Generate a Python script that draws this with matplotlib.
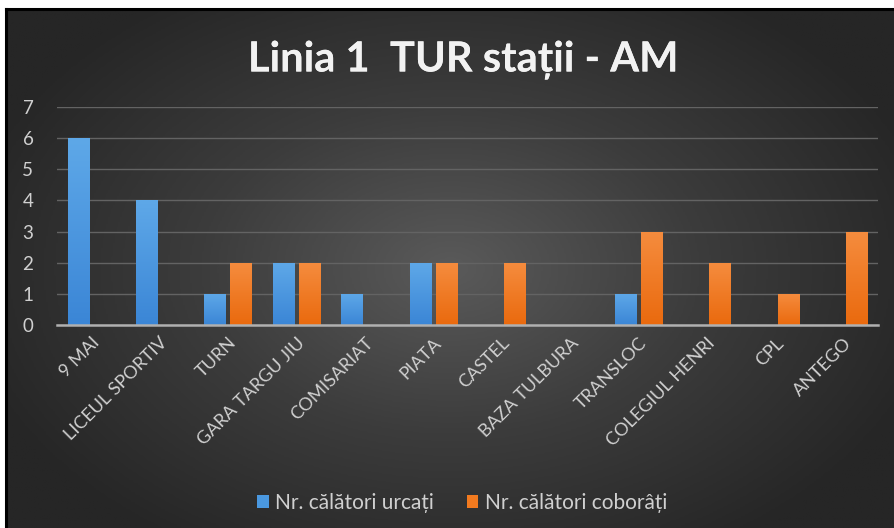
import numpy as np
import matplotlib.pyplot as plt
from matplotlib import patheffects as pe
from matplotlib.colors import LinearSegmentedColormap

plt.rcParams['font.family'] = ['Lato', 'DejaVu Sans']

statii = ['9 MAI', 'LICEUL SPORTIV', 'TURN', 'GARA TARGU JIU', 'COMISARIAT', 'PIATA',
          'CASTEL', 'BAZA TULBURA', 'TRANSLOC', 'COLEGIUL HENRI', 'CPL', 'ANTEGO']
urcati = [6, 4, 1, 2, 1, 2, 0, 0, 1, 0, 0, 0]
coborati = [0, 0, 2, 2, 0, 2, 2, 0, 3, 2, 1, 3]
yticks = [0, 1, 2, 3, 4, 5, 6, 7]

W, H = 894, 528
fig = plt.figure(figsize=(W / 100, H / 100), dpi=100)
fig.patch.set_facecolor('white')

# fond sombre avec degrade radial
bx0, by1 = 7 / W, 1 - 10 / H
bg = fig.add_axes([bx0, 0, 1 - bx0, by1])
bg.set_zorder(-5)
yy, xx = np.mgrid[0:1:300j, 0:1:500j]
r = np.sqrt(((xx - 0.5) / 0.75) ** 2 + ((yy - 0.5) / 0.85) ** 2)
r = np.clip(r / 0.75, 0, 1)
cm_bg = LinearSegmentedColormap.from_list('bg', ['#5a5a5a', '#3c3c3c', '#262626'])
bg.imshow(r, cmap=cm_bg, aspect='auto', extent=[0, 1, 0, 1], vmin=0, vmax=1)
bg.set_xlim(0, 1)
bg.set_ylim(0, 1)
bg.axis('off')
# bordure noire
fig.add_artist(plt.Line2D([bx0 - 0.001, bx0 - 0.001], [0, by1 + 0.002], color='black', lw=2.2,
                          transform=fig.transFigure))
fig.add_artist(plt.Line2D([bx0 - 0.001, 1], [by1 + 0.002, by1 + 0.002], color='black', lw=2.2,
                          transform=fig.transFigure))

ax = fig.add_axes([57 / W, 1 - 325 / H, (878 - 57) / W, (325 - 107) / H])
ax.patch.set_alpha(0)

x = np.arange(len(statii))
w = 0.31
off = 0.19
b1 = ax.bar(x - off, urcati, w, color='#4a98e0', zorder=3, label='Nr. călători urcați')
b2 = ax.bar(x + off, coborati, w, color='#f27a1f', zorder=3, label='Nr. călători coborâți')

# degrade vertical dans chaque barre
grad = np.linspace(1, 0, 64).reshape(-1, 1)
cm_b = LinearSegmentedColormap.from_list('b', ['#3b86d6', '#5ea8e8'])
cm_o = LinearSegmentedColormap.from_list('o', ['#ea6a0e', '#f58c3e'])
for bars, cm in ((b1, cm_b), (b2, cm_o)):
    for p in bars:
        h = p.get_height()
        if h <= 0:
            continue
        x0 = p.get_x()
        im = ax.imshow(grad, cmap=cm, aspect='auto', zorder=4, vmin=0, vmax=1,
                       extent=[x0, x0 + p.get_width(), 0, h])
        im.set_clip_path(p)

ax.set_xlim(-0.5, len(statii) - 0.5)
ax.set_ylim(0, 7)
ax.set_yticks(yticks)
ax.yaxis.grid(True, color='#636363', lw=1)
ax.set_axisbelow(True)
for s in ['top', 'right', 'left']:
    ax.spines[s].set_visible(False)
ax.spines['bottom'].set_color('#b0b0b0')
ax.spines['bottom'].set_linewidth(1.8)
ax.spines['bottom'].set_zorder(5)
ax.tick_params(axis='both', length=0, colors='#d0d0d0')
ax.tick_params(axis='y', labelsize=13.5, pad=17)
ax.set_xticks(x)
ax.set_xticklabels(statii, rotation=45, ha='right', rotation_mode='anchor',
                   fontsize=13, color='#d0d0d0')
ax.tick_params(axis='x', pad=7)

fig.text(463 / W, 1 - 60 / H, 'Linia 1  TUR stații - AM', ha='center', va='center',
         fontsize=30, fontweight='bold', color='#f2f2f2',
         path_effects=[pe.withSimplePatchShadow(offset=(0, 0), shadow_rgbFace='black', alpha=0.5),
                       pe.Normal()])

leg = fig.legend(handles=[b1, b2], loc='center', bbox_to_anchor=(462 / W, 1 - 503 / H),
                 ncol=2, frameon=False, fontsize=15, labelcolor='#d0d0d0',
                 handlelength=0.55, handleheight=0.55, handletextpad=0.3, columnspacing=1.6)

fig.savefig('out.png', dpi=100, facecolor=fig.get_facecolor())
